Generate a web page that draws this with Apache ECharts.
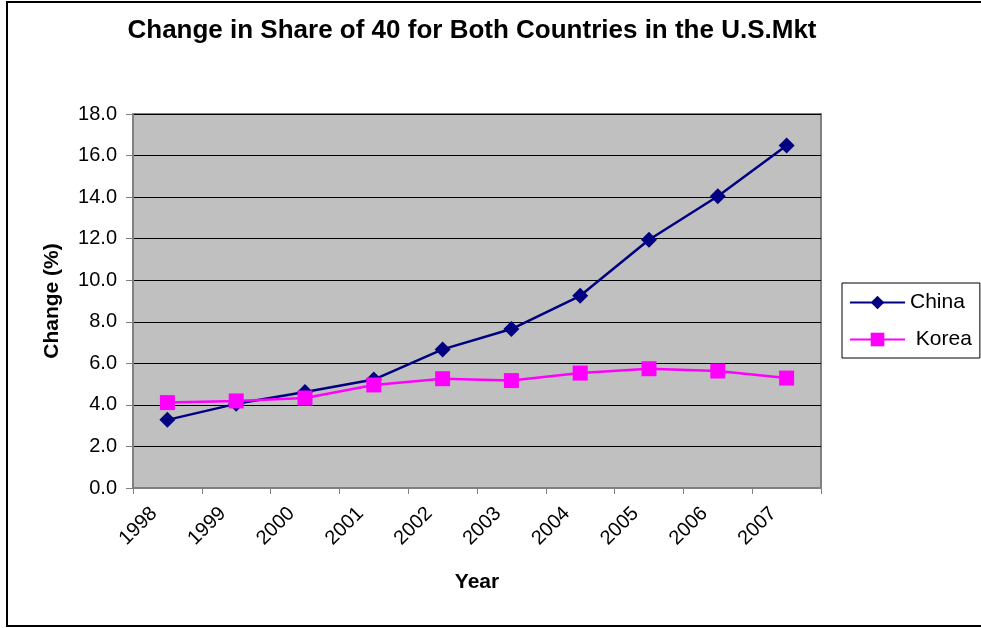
<!DOCTYPE html>
<html lang="en">

<head>
    <meta charset="UTF-8">
    <title>Change in Share of 40</title>
    <script src="https://cdn.jsdelivr.net/npm/echarts/dist/echarts.min.js"></script>
    <style>
        html, body { margin: 0; padding: 0; background: #fff; overflow: hidden; }
        #chart { width: 981px; height: 628px; }
    </style>
</head>

<body>
    <div id="chart"></div>

    <script>
        // data
        const years = ['1998', '1999', '2000', '2001', '2002', '2003', '2004', '2005', '2006', '2007'];
        const china = [3.28, 4.05, 4.62, 5.22, 6.67, 7.65, 9.25, 11.95, 14.04, 16.48];
        const korea = [4.11, 4.19, 4.33, 4.96, 5.26, 5.17, 5.53, 5.74, 5.63, 5.29];

        const font = 'Arial, "Liberation Sans", sans-serif';

        const chart = echarts.init(document.getElementById('chart'));
        chart.setOption({
            animation: false,
            backgroundColor: '#fff',
            textStyle: { fontFamily: font, color: '#000' },
            title: {
                text: 'Change in Share of 40 for Both Countries in the U.S.Mkt',
                left: 467,
                top: 13,
                textAlign: 'center',
                textStyle: { fontSize: 26, fontWeight: 'bold', fontFamily: font, color: '#000' }
            },
            // outer frame of the chart
            graphic: [{
                type: 'rect',
                shape: { x: 7, y: 2, width: 1000, height: 624 },
                style: { fill: 'none', stroke: '#000', lineWidth: 2 },
                silent: true
            }],
            grid: {
                left: 133, right: 160, top: 114, bottom: 140,
                show: true,
                backgroundColor: '#C0C0C0',
                borderColor: '#808080',
                borderWidth: 2
            },
            legend: {
                orient: 'vertical',
                left: 842,
                top: 283,
                padding: [9, 8, 8, 7],
                itemWidth: 55,
                itemHeight: 17,
                itemGap: 16,
                borderColor: '#000',
                borderWidth: 1,
                borderRadius: 0,
                textStyle: { fontSize: 21, fontFamily: font, color: '#000' },
                formatter: name => name === 'Korea' ? ' Korea' : name,
                data: ['China', 'Korea']
            },
            xAxis: {
                type: 'category',
                data: years,
                boundaryGap: true,
                name: 'Year',
                nameLocation: 'middle',
                nameGap: 84,
                nameTextStyle: { fontSize: 21, fontWeight: 'bold', color: '#000' },
                axisLine: { lineStyle: { color: '#808080', width: 2 } },
                axisTick: { show: true, inside: false, length: 6, interval: 0, lineStyle: { color: '#808080' } },
                axisLabel: { rotate: 45, interval: 0, fontSize: 20, color: '#000', margin: 9, padding: [0, 19, 0, 0] },
                splitLine: { show: false }
            },
            yAxis: {
                type: 'value',
                min: 0,
                max: 18,
                interval: 2,
                name: 'Change (%)',
                nameLocation: 'middle',
                nameGap: 70,
                nameRotate: 90,
                nameTextStyle: { fontSize: 21, fontWeight: 'bold', color: '#000' },
                axisLine: { show: true, lineStyle: { color: '#808080', width: 2 } },
                axisTick: { show: true, inside: false, length: 7, lineStyle: { color: '#808080' } },
                axisLabel: {
                    fontSize: 20, color: '#000', margin: 16,
                    formatter: v => v.toFixed(1)
                },
                splitLine: { show: true, lineStyle: { color: '#000', width: 1 } }
            },
            series: [{
                name: 'China',
                type: 'line',
                data: china,
                symbol: 'diamond',
                symbolSize: 16,
                itemStyle: { color: '#000080' },
                lineStyle: { color: '#000080', width: 2.5 }
            }, {
                name: 'Korea',
                type: 'line',
                data: korea,
                symbol: 'rect',
                symbolSize: 15,
                itemStyle: { color: '#FF00FF' },
                lineStyle: { color: '#FF00FF', width: 2.5 }
            }]
        });
    </script>
</body>

</html>
